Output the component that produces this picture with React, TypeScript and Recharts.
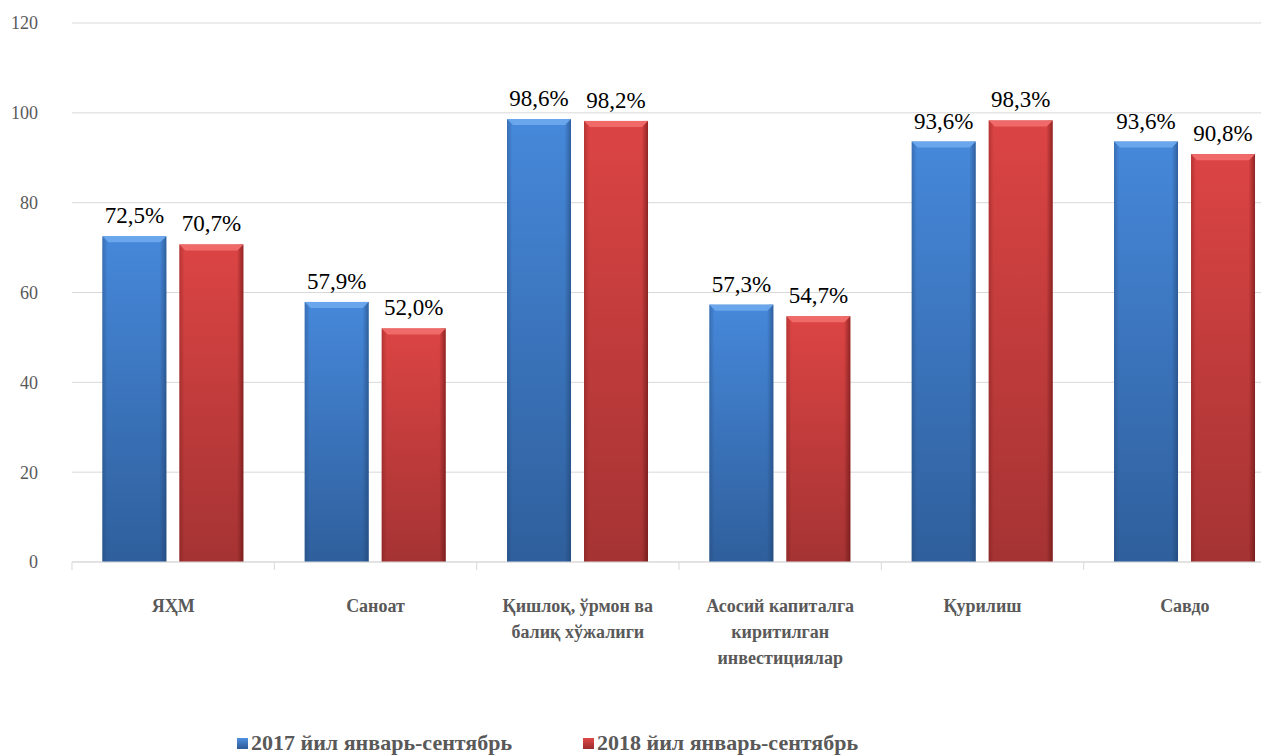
import { ComposedChart, Bar, XAxis, YAxis, CartesianGrid, Legend, LabelList } from 'recharts'

const categories = ['ЯҲМ', 'Саноат', 'Қишлоқ, ўрмон ва балиқ хўжалиги', 'Асосий капиталга киритилган инвестициялар', 'Қурилиш', 'Савдо']
const categoryLines = [
  ['ЯҲМ'],
  ['Саноат'],
  ['Қишлоқ, ўрмон ва', 'балиқ хўжалиги'],
  ['Асосий капиталга', 'киритилган', 'инвестициялар'],
  ['Қурилиш'],
  ['Савдо'],
]
const values2017 = [72.5, 57.9, 98.6, 57.3, 93.6, 93.6]
const values2018 = [70.7, 52.0, 98.2, 54.7, 98.3, 90.8]
const yTicks = [0, 20, 40, 60, 80, 100, 120]
const seriesNames = ['2017 йил январь-сентябрь', '2018 йил январь-сентябрь']

const data = categories.map((c, i) => ({ name: c, idx: i, a: values2017[i], b: values2018[i] }))

const serif = "'Times New Roman', Tinos, 'Liberation Serif', 'DejaVu Serif', 'Noto Serif', FreeSerif, Georgia, serif"
const gray = '#595959'

const fmt = (v: any) => Number(v).toFixed(1).replace('.', ',') + '%'

function BevelBar(props: any) {
  const { x, y, width, height, kind } = props
  if (!width || !height) return null
  const b = Math.min(6, width / 4)
  const top = kind === 'a' ? '#6aa6ec' : '#f06a6a'
  return (
    <g>
      <rect x={x} y={y} width={width} height={height} fill={`url(#v_${kind})`} />
      <rect x={x} y={y} width={width} height={height} fill={`url(#h_${kind})`} />
      <polygon points={`${x},${y} ${x + width},${y} ${x + width - b},${y + b} ${x + b},${y + b}`} fill={top} />
    </g>
  )
}

function CatTick(props: any) {
  const { x, y, payload } = props
  const i = categories.indexOf(payload.value)
  const lines = categoryLines[i] || [payload.value]
  const half = payload.offset || 101
  return (
    <g>
      <line x1={x - half} y1={y - 8} x2={x - half} y2={y} stroke="#d9d9d9" />
      {i === categories.length - 1 && <line x1={x + half} y1={y - 8} x2={x + half} y2={y} stroke="#d9d9d9" />}
      <text x={x} y={y + 29} textAnchor="middle" style={{ fontFamily: serif }} fontWeight="bold" fontSize={18} fill={gray}>
        {lines.map((l, k) => (
          <tspan key={k} x={x} dy={k === 0 ? '0.71em' : 26}>{l}</tspan>
        ))}
      </text>
    </g>
  )
}

function LegendBox() {
  const items = [
    { name: seriesNames[0], c1: '#4f8fdf', c2: '#2c5a95', left: 237 },
    { name: seriesNames[1], c1: '#e04848', c2: '#9c2c2c', left: 583 },
  ]
  return (
    <div style={{ position: 'relative', height: 30 }}>
      {items.map((it, k) => (
        <div key={k} style={{ position: 'absolute', left: it.left, top: 0, display: 'flex', alignItems: 'center', whiteSpace: 'nowrap' }}>
          <span style={{ display: 'inline-block', width: 11, height: 11, background: `linear-gradient(${it.c1}, ${it.c2})`, marginRight: 3 }} />
          <span style={{ fontFamily: serif, fontWeight: 'bold', fontSize: 22, color: gray }}>{it.name}</span>
        </div>
      ))}
    </div>
  )
}

export default function App() {
  return (
    <div style={{ position: 'absolute', left: 0, top: 0, width: 1261, height: 756, overflow: 'hidden', background: '#fff', fontFamily: serif }}>
      <ComposedChart width={1286} height={756} data={data} margin={{ top: 23, right: 0, left: 0, bottom: 34 }} barCategoryGap="15%" barGap={13}>
        <defs>
          <linearGradient id="v_a" x1="0" y1="0" x2="0" y2="1">
            <stop offset="0%" stopColor="#4688da" />
            <stop offset="100%" stopColor="#2f5f9c" />
          </linearGradient>
          <linearGradient id="h_a" x1="0" y1="0" x2="1" y2="0">
            <stop offset="0%" stopColor="#1e3f6b" stopOpacity={0.35} />
            <stop offset="8%" stopColor="#1e3f6b" stopOpacity={0} />
            <stop offset="90%" stopColor="#1e3f6b" stopOpacity={0} />
            <stop offset="100%" stopColor="#1e3f6b" stopOpacity={0.55} />
          </linearGradient>
          <linearGradient id="v_b" x1="0" y1="0" x2="0" y2="1">
            <stop offset="0%" stopColor="#dc4444" />
            <stop offset="100%" stopColor="#a53333" />
          </linearGradient>
          <linearGradient id="h_b" x1="0" y1="0" x2="1" y2="0">
            <stop offset="0%" stopColor="#5e1010" stopOpacity={0.3} />
            <stop offset="8%" stopColor="#5e1010" stopOpacity={0} />
            <stop offset="90%" stopColor="#5e1010" stopOpacity={0} />
            <stop offset="100%" stopColor="#5e1010" stopOpacity={0.6} />
          </linearGradient>
        </defs>
        <CartesianGrid vertical={false} stroke="#d9d9d9" />
        <XAxis dataKey="name" interval={0} height={130} axisLine={{ stroke: '#d9d9d9' }} tickLine={false} tick={<CatTick />} />
        <YAxis domain={[0, 120]} ticks={yTicks} width={72} axisLine={false} tickLine={false} tickMargin={28}
          tick={{ fontSize: 18, fill: gray, style: { fontFamily: serif } }} />
        <Legend verticalAlign="bottom" content={() => <LegendBox />} wrapperStyle={{ bottom: -4 }} />
        <Bar dataKey="a" name={seriesNames[0]} isAnimationActive={false} shape={(p: any) => <BevelBar {...p} kind="a" />}>
          <LabelList dataKey="a" position="top" offset={13} formatter={fmt} style={{ fontFamily: serif, fontSize: 23, fill: '#000' }} />
        </Bar>
        <Bar dataKey="b" name={seriesNames[1]} isAnimationActive={false} shape={(p: any) => <BevelBar {...p} kind="b" />}>
          <LabelList dataKey="b" position="top" offset={13} formatter={fmt} style={{ fontFamily: serif, fontSize: 23, fill: '#000' }} />
        </Bar>
      </ComposedChart>
    </div>
  )
}
